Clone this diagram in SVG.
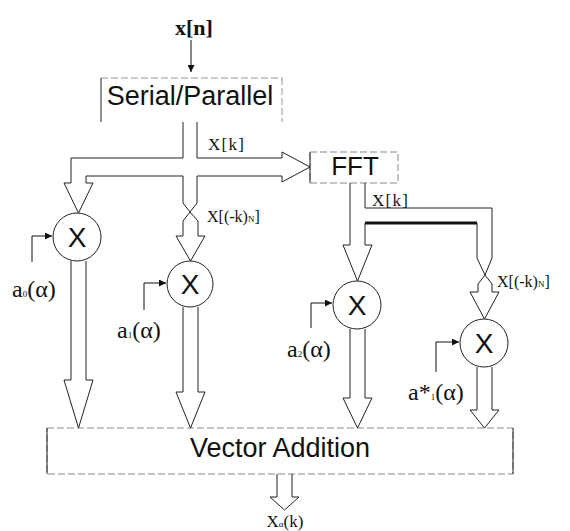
<svg xmlns="http://www.w3.org/2000/svg" width="570" height="531" viewBox="0 0 570 531">
<defs>
<marker id="ah" viewBox="0 0 10 10" refX="10" refY="5" markerWidth="7" markerHeight="7" markerUnits="userSpaceOnUse" orient="auto"><path d="M0,0 L10,5 L0,10 Z" fill="#111"/></marker>
<style>
.box{fill:#fff;stroke:#888;stroke-width:1;stroke-dasharray:7 3}
.edge{stroke:#222;stroke-width:1;fill:none}
.faint{stroke:#999;stroke-width:1;fill:none;stroke-dasharray:7 3}
.pipe{fill:none;stroke:#222;stroke-width:1;stroke-linejoin:miter}
.thick{fill:none;stroke:#111;stroke-width:3}
.mul{fill:#fff;stroke:#222;stroke-width:1}
.sans{font-family:"Liberation Sans",Arial,sans-serif;fill:#111}
.serif{font-family:"Liberation Serif","Times New Roman",serif;fill:#111}
.inp{fill:none;stroke:#111;stroke-width:1}
</style>
</defs>
<rect width="570" height="531" fill="#fff"/>

<g id="input">
<text class="serif" x="194" y="35" font-size="22" font-weight="bold" text-anchor="middle">x[n]</text>
</g>

<g id="serial-parallel">
<path class="faint" d="M101,78 H282"/>
<path class="edge" d="M101,78 V122"/>
<path class="faint" d="M282,78 V122" stroke-dasharray="5 4"/>
<text class="sans" x="190" y="105" font-size="27" text-anchor="middle">Serial/Parallel</text>
</g>

<g id="fft">
<rect class="box" x="310" y="152" width="88" height="31"/>
<path class="edge" d="M310,152 V183"/>
<text class="sans" x="355" y="175" font-size="26" text-anchor="middle">FFT</text>
</g>

<g id="mul0">
<circle class="mul" cx="77" cy="237" r="24"/>
<text class="sans" x="77" y="247" font-size="28" text-anchor="middle">X</text>
<path class="inp" d="M32,262 V236 H52" marker-end="url(#ah)"/>
<text class="serif" x="12" y="297" font-size="24">a<tspan font-size="9">0</tspan>(α)</text>
</g>

<g id="mul1">
<circle class="mul" cx="190" cy="284" r="23"/>
<text class="sans" x="190" y="294" font-size="28" text-anchor="middle">X</text>
<path class="inp" d="M144,310 V283 H166" marker-end="url(#ah)"/>
<text class="serif" x="117" y="338" font-size="24">a<tspan font-size="9">1</tspan>(α)</text>
</g>

<g id="mul2">
<circle class="mul" cx="357" cy="305" r="24"/>
<text class="sans" x="357" y="315" font-size="28" text-anchor="middle">X</text>
<path class="inp" d="M311,328 V303 H332" marker-end="url(#ah)"/>
<text class="serif" x="287" y="357" font-size="24">a<tspan font-size="9">2</tspan>(α)</text>
</g>

<g id="mul3">
<circle class="mul" cx="484" cy="343" r="24"/>
<text class="sans" x="484" y="353" font-size="28" text-anchor="middle">X</text>
<path class="inp" d="M436,372 V342 H459" marker-end="url(#ah)"/>
<text class="serif" x="408" y="400" font-size="24">a*<tspan font-size="9">1</tspan>(α)</text>
</g>

<g id="vector-addition">
<rect class="box" x="47" y="428" width="466" height="46"/>
<path class="edge" d="M47,428 V474 M513,428 V474"/>
<text class="sans" x="280" y="457" font-size="27" text-anchor="middle">Vector Addition</text>
</g>

<g id="output">
<text class="serif" x="285" y="527" font-size="17" text-anchor="middle">X<tspan font-size="9">α</tspan>(k)</text>
</g>

<g id="connectors">
<path class="inp" d="M191,40 V72" marker-end="url(#ah)"/>
<path class="pipe" d="M183,122 V158 H71 V183 H64 L78.5,213 L93,183 H86 V176 H183 V203 L190,212"/>
<path class="pipe" d="M197,122 V158 H282 V152 L310,167 L282,182 V176 H197 V203 L190,212"/>
<path class="pipe" d="M190,212 L183,221 V236 H176 L190.5,261 L205,236 H198 V221 Z"/>
<text class="serif" x="208" y="150" font-size="17" textLength="36">X[k]</text>
<text class="serif" x="207" y="222" font-size="16">X[(-k)<tspan font-size="9">N</tspan>]</text>
<path class="pipe" d="M350,183 V245 H343 L357.5,281 L372,245 H365 V223 H477 V258 L485,275"/>
<path class="pipe" d="M365,183 V208 H492 V258 L485,275"/>
<path class="thick" d="M365,223 H477"/>
<path class="pipe" d="M485,275 L478,284 V292 H470 L484.5,319 L499,292 H492 V284 Z"/>
<text class="serif" x="372" y="206" font-size="17" textLength="36">X[k]</text>
<text class="serif" x="497" y="287" font-size="16">X[(-k)<tspan font-size="9">N</tspan>]</text>
<path class="pipe" d="M71,261 V380 H64 L78.5,428 L93,380 H86 V261"/>
<path class="pipe" d="M183,307 V392 H176 L190.5,428 L205,392 H198 V307"/>
<path class="pipe" d="M350,329 V398 H343 L357.5,428 L372,398 H365 V329"/>
<path class="pipe" d="M477,367 V410 H470 L484.5,428 L499,410 H492 V367"/>
<path class="pipe" d="M277,474 V497 H270 L284.5,510 L299,497 H292 V474"/>
</g>
</svg>
